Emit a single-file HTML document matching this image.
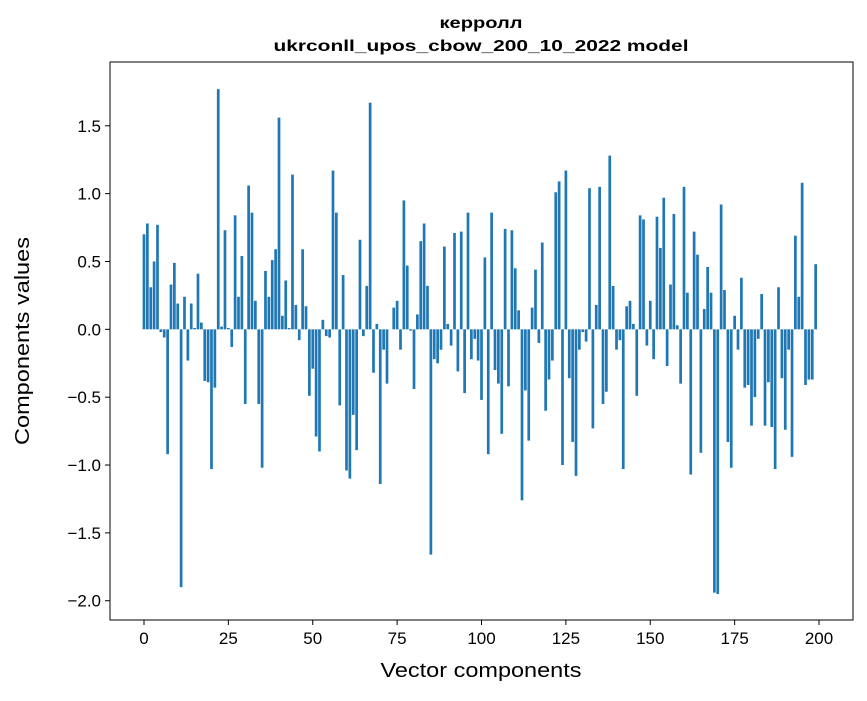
<!DOCTYPE html>
<html><head><meta charset="utf-8"><style>
body{margin:0;background:#fff;font-family:"Liberation Sans","DejaVu Sans",sans-serif;}
svg text{font-family:"Liberation Sans","DejaVu Sans",sans-serif;}
</style></head><body>
<svg id="chart" width="867" height="696" xmlns="http://www.w3.org/2000/svg">
<rect width="867" height="696" fill="#fff"/>
<text x="481" y="28" text-anchor="middle" font-size="16" font-weight="bold" textLength="83" lengthAdjust="spacingAndGlyphs">керролл</text>
<text x="481" y="51" text-anchor="middle" font-size="16" font-weight="bold" textLength="415" lengthAdjust="spacingAndGlyphs">ukrconll_upos_cbow_200_10_2022 model</text>
<g id="bars"></g>
<g id="axes"></g>
<rect x="110" y="62" width="743" height="558" fill="none" stroke="#000" stroke-width="1"/>
<text x="481" y="677" text-anchor="middle" font-size="20" textLength="201" lengthAdjust="spacingAndGlyphs">Vector components</text>
<text transform="translate(29,341) rotate(-90)" text-anchor="middle" font-size="20" textLength="208" lengthAdjust="spacingAndGlyphs">Components values</text>
</svg>
<script>
const values = [
0.70,0.78,0.31,0.50,0.77,-0.02,-0.06,-0.92,0.33,0.49,0.19,-1.90,0.24,-0.23,0.19,0.01,0.41,0.05,-0.38,-0.39,-1.03,-0.43,1.77,0.02,0.73,
0.01,-0.13,0.84,0.24,0.54,-0.55,1.06,0.86,0.21,-0.55,-1.02,0.43,0.24,0.51,0.59,1.56,0.10,0.36,0.01,1.14,0.18,-0.08,0.59,0.17,-0.49,
-0.29,-0.79,-0.90,0.07,-0.05,-0.06,1.17,0.86,-0.56,0.40,-1.04,-1.10,-0.63,-0.89,0.66,-0.05,0.32,1.67,-0.32,0.04,-1.14,-0.15,-0.40,0.00,0.16,0.21,
-0.15,0.95,0.47,-0.01,-0.44,0.11,0.65,0.78,0.32,-1.66,-0.22,-0.25,-0.15,0.61,0.04,-0.12,0.71,-0.31,0.72,-0.47,0.86,-0.22,-0.07,-0.23,-0.52,
0.53,-0.92,0.86,-0.30,-0.40,-0.77,0.74,-0.42,0.73,0.45,0.14,-1.26,-0.45,-0.82,0.16,0.44,-0.10,0.64,-0.60,-0.37,-0.23,1.01,1.09,-1.00,1.17,
-0.36,-0.83,-1.08,-0.15,-0.02,-0.09,1.04,-0.73,0.18,1.05,-0.55,-0.46,1.28,0.32,-0.15,-0.08,-1.03,0.17,0.21,0.04,-0.49,0.84,0.81,-0.12,0.21,
-0.22,0.83,0.60,0.97,-0.27,0.33,0.85,0.03,-0.40,1.05,0.27,-1.07,0.72,0.55,-0.91,0.15,0.46,0.27,-1.94,-1.95,0.92,0.29,-0.83,-1.02,0.10,
-0.15,0.38,-0.43,-0.41,-0.71,-0.50,-0.07,0.26,-0.71,-0.39,-0.72,-1.03,0.31,-0.36,-0.74,-0.15,-0.94,0.69,0.24,1.08,-0.41,-0.37,-0.37,0.48
];
const xTicks = [0,25,50,75,100,125,150,175,200];
const yTicks = [-2.0,-1.5,-1.0,-0.5,0.0,0.5,1.0,1.5];
const yTickLabels = ["\u22122.0","\u22121.5","\u22121.0","\u22120.5","0.0","0.5","1.0","1.5"];
const NS="http://www.w3.org/2000/svg";
const L=110,R=853,T=62,B=620, XMIN=-10.07, XMAX=210.07, YMIN=-2.142, YMAX=1.97;
const xs=v=>L+(v-XMIN)/(XMAX-XMIN)*(R-L);
const ys=v=>B-(v-YMIN)/(YMAX-YMIN)*(B-T);
const bars=document.getElementById('bars');
values.forEach((v,i)=>{
  const r=document.createElementNS(NS,'rect');
  
  
  const x0=xs(i-0.4), x1=xs(i+0.4);
  const y0=ys(Math.max(v,0)), y1=ys(Math.min(v,0));
  r.setAttribute('x',x0);r.setAttribute('width',x1-x0);
  r.setAttribute('y',y0);r.setAttribute('height',Math.max(y1-y0,0.01));
  r.setAttribute('fill','#1f77b4');
  bars.appendChild(r);
});
const ax=document.getElementById('axes');
xTicks.forEach(t=>{
  const l=document.createElementNS(NS,'line');
  
  
  l.setAttribute('x1',xs(t));l.setAttribute('x2',xs(t));l.setAttribute('y1',B);l.setAttribute('y2',B+5);l.setAttribute('stroke','#000');
  ax.appendChild(l);
  const tx=document.createElementNS(NS,'text');
  
  
  tx.setAttribute('x',xs(t));tx.setAttribute('y',B+24);tx.setAttribute('text-anchor','middle');tx.setAttribute('font-size','17');
  tx.textContent=t;ax.appendChild(tx);
});
yTicks.forEach((t,i)=>{
  const l=document.createElementNS(NS,'line');
  
  
  l.setAttribute('x1',L-5);l.setAttribute('x2',L);l.setAttribute('y1',ys(t));l.setAttribute('y2',ys(t));l.setAttribute('stroke','#000');
  ax.appendChild(l);
  const tx=document.createElementNS(NS,'text');
  
  
  tx.setAttribute('x',L-9);tx.setAttribute('y',ys(t)+6);tx.setAttribute('text-anchor','end');tx.setAttribute('font-size','17');
  tx.textContent=yTickLabels[i];ax.appendChild(tx);
});
</script>
</body></html>
